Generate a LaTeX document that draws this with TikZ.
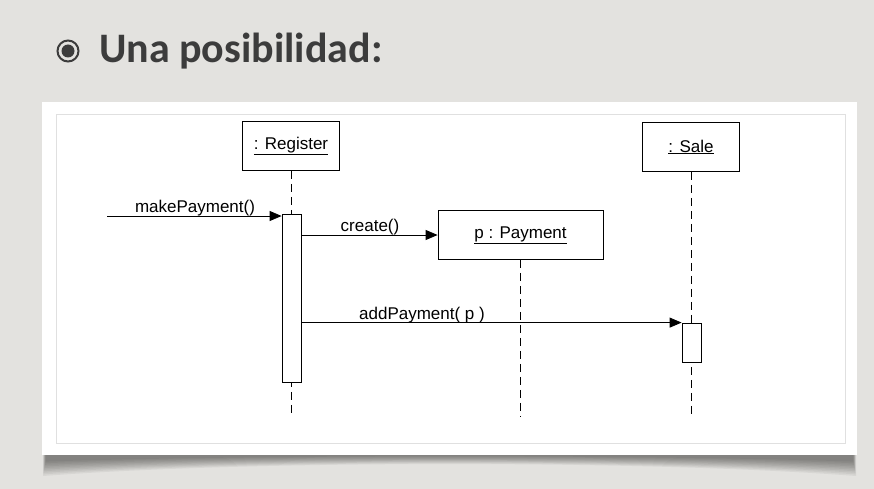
\documentclass[tikz,border=0pt]{standalone}
\usepackage{fontspec}
\setmainfont{Liberation Sans}
\newfontfamily\titlefont{Carlito}
\usetikzlibrary{arrows.meta,calc}
\definecolor{slidebg}{HTML}{E3E2DF}
\definecolor{titlegray}{HTML}{3C3C3C}
\tikzset{
  object/.style={draw,thick,fill=white,minimum width=97pt,minimum height=49pt,inner sep=0pt,font=\fontsize{17}{20}\selectfont},
  actbar/.style={draw,thick,fill=white,minimum width=19pt,inner sep=0pt},
  lifeline/.style={thick,dash pattern=on 8pt off 5pt},
  msg/.style={thick,-{Triangle[length=12pt,width=10pt]}},
  msglabel/.style={anchor=base,inner sep=0pt,font=\fontsize{17}{20}\selectfont}
}
\begin{document}
\begin{tikzpicture}[x=1pt,y=-1pt]
			\fill[slidebg] (0,0) rectangle (874,489);
			\useasboundingbox (0,0) rectangle (874,489);
			% title
			\draw[titlegray,line width=2pt] (68,51) circle (10.5pt);
			\fill[titlegray] (68,51) circle (6.5pt);
			\node[anchor=base west,inner sep=0pt,text=titlegray,font=\titlefont\bfseries\fontsize{42}{48}\selectfont] (title) at (99,63) {Una posibilidad:};
			
			% card with shadow
			\foreach \d in {0,1,...,9}{
				\fill[black,opacity=0.05] (43+\d*0.3,450) -- (43+\d*0.3,476-\d*1.6) .. controls (250,460-\d*0.6) and (650,460-\d*0.6) .. (856-\d*0.3,476-\d*1.6) -- (856-\d*0.3,450) -- cycle;
			}
			\fill[white] (42,102) rectangle (857,455);
			\draw[black!12] (56,114) rectangle (845,443);
			
			% objects
			\node[object] (reg) at (291,146) {\underline{: Register}};
			\node[object] (sale) at (691,147) {\underline{: Sale}};
			\node[object,minimum width=165pt] (pay) at (520.5,235) {\underline{p : Payment}};
			
			% lifelines
			\coordinate (regEnd) at (291,417);
			\coordinate (saleEnd) at (691,417);
			\coordinate (payEnd) at (520.5,417);
			\draw[lifeline] (reg.south) -- (regEnd);
			\draw[lifeline] (sale.south) -- (saleEnd);
			\draw[lifeline] (pay.south) -- (payEnd);
			
			% activations
			\node[actbar,minimum height=168pt] (regAct) at (291.5,298) {};
			\node[actbar,minimum height=39pt] (saleAct) at (691.5,342.5) {};
			
			% messages
			\coordinate (mpStart) at (107,216);
			\draw[msg] (mpStart) -- (mpStart -| regAct.west);
			\node[msglabel] (mpLabel) at (195,212) {makePayment()};
			\draw[msg] (regAct.east |- pay.west) -- (pay.west);
			\node[msglabel] (crLabel) at (370,231) {create()};
			\draw[msg] (regAct.east |- saleAct.north) -- (saleAct.north west);
			\node[msglabel] (apLabel) at (422,319) {addPayment( p )};
			
		\end{tikzpicture}
\end{document}
